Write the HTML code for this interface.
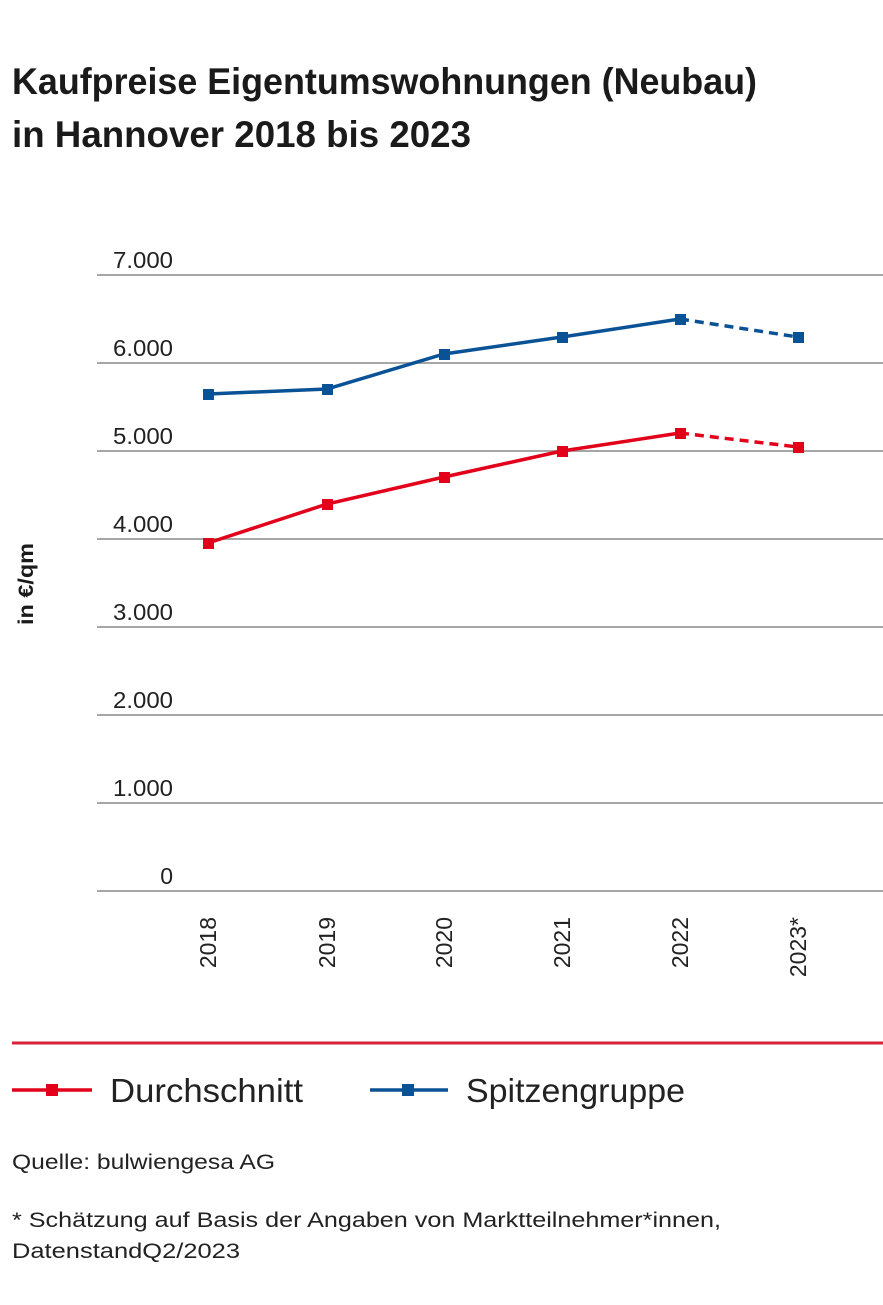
<!DOCTYPE html>
<html><head><meta charset="utf-8"><style>
html,body{margin:0;padding:0;background:#fff;}
svg{display:block;font-family:"Liberation Sans",sans-serif;}
</style></head><body>
<svg width="883" height="1305" viewBox="0 0 883 1305" xmlns="http://www.w3.org/2000/svg">
<text x="12" y="94" font-size="37" font-weight="bold" fill="#1a1a1a" textLength="745" lengthAdjust="spacingAndGlyphs">Kaufpreise Eigentumswohnungen (Neubau)</text>
<text x="12" y="147" font-size="37" font-weight="bold" fill="#1a1a1a" textLength="459" lengthAdjust="spacingAndGlyphs">in Hannover 2018 bis 2023</text>
<g stroke="#a6a6a6" stroke-width="2">
<line x1="97" y1="275" x2="883" y2="275"/><line x1="97" y1="363" x2="883" y2="363"/>
<line x1="97" y1="451" x2="883" y2="451"/><line x1="97" y1="539" x2="883" y2="539"/>
<line x1="97" y1="627" x2="883" y2="627"/><line x1="97" y1="715" x2="883" y2="715"/>
<line x1="97" y1="803" x2="883" y2="803"/><line x1="97" y1="891" x2="883" y2="891"/>
</g>
<g font-size="23" fill="#222" text-anchor="end">
<text x="173" y="268" textLength="60" lengthAdjust="spacingAndGlyphs">7.000</text>
<text x="173" y="356" textLength="60" lengthAdjust="spacingAndGlyphs">6.000</text>
<text x="173" y="444" textLength="60" lengthAdjust="spacingAndGlyphs">5.000</text>
<text x="173" y="532" textLength="60" lengthAdjust="spacingAndGlyphs">4.000</text>
<text x="173" y="620" textLength="60" lengthAdjust="spacingAndGlyphs">3.000</text>
<text x="173" y="708" textLength="60" lengthAdjust="spacingAndGlyphs">2.000</text>
<text x="173" y="796" textLength="60" lengthAdjust="spacingAndGlyphs">1.000</text>
<text x="173" y="884">0</text>
</g>
<text transform="translate(33,584) rotate(-90)" font-size="21" font-weight="bold" fill="#1a1a1a" text-anchor="middle" textLength="82" lengthAdjust="spacingAndGlyphs">in €/qm</text>
<g font-size="23" fill="#222" text-anchor="end">
<text transform="translate(216,917) rotate(-90)">2018</text>
<text transform="translate(335,917) rotate(-90)">2019</text>
<text transform="translate(452,917) rotate(-90)">2020</text>
<text transform="translate(570,917) rotate(-90)">2021</text>
<text transform="translate(688,917) rotate(-90)">2022</text>
<text transform="translate(806,917) rotate(-90)">2023*</text>
</g>
<g fill="none" stroke-width="3.5">
<polyline stroke="#0a5296" points="208,394 327,389 444,354 562,337 680,319"/>
<line stroke="#0a5296" x1="680" y1="319" x2="798" y2="337" stroke-dasharray="9,6"/>
<polyline stroke="#e2001a" points="208,543 327,504 444,477 562,451 680,433"/>
<line stroke="#e2001a" x1="680" y1="433" x2="798" y2="447" stroke-dasharray="9,6"/>
</g>
<g fill="#0a5296">
<rect x="203" y="389" width="11" height="11"/><rect x="322" y="384" width="11" height="11"/>
<rect x="439" y="349" width="11" height="11"/><rect x="557" y="332" width="11" height="11"/>
<rect x="675" y="314" width="11" height="11"/><rect x="793" y="332" width="11" height="11"/>
</g>
<g fill="#e2001a">
<rect x="203" y="538" width="11" height="11"/><rect x="322" y="499" width="11" height="11"/>
<rect x="439" y="472" width="11" height="11"/><rect x="557" y="446" width="11" height="11"/>
<rect x="675" y="428" width="11" height="11"/><rect x="793" y="442" width="11" height="11"/>
</g>
<line x1="12" y1="1043" x2="883" y2="1043" stroke="#d6233a" stroke-width="3"/>
<line x1="12" y1="1090" x2="92" y2="1090" stroke="#e2001a" stroke-width="3.5"/>
<rect x="46" y="1084" width="12" height="12" fill="#e2001a"/>
<text x="110" y="1102" font-size="33" fill="#222" textLength="193" lengthAdjust="spacingAndGlyphs">Durchschnitt</text>
<line x1="370" y1="1090" x2="448" y2="1090" stroke="#0a5296" stroke-width="3.5"/>
<rect x="402" y="1084" width="12" height="12" fill="#0a5296"/>
<text x="466" y="1102" font-size="33" fill="#222" textLength="219" lengthAdjust="spacingAndGlyphs">Spitzengruppe</text>
<g font-size="21" fill="#222">
<text x="12" y="1169" textLength="263" lengthAdjust="spacingAndGlyphs">Quelle: bulwiengesa AG</text>
<text x="12" y="1227" textLength="709" lengthAdjust="spacingAndGlyphs">* Schätzung auf Basis der Angaben von Marktteilnehmer*innen,</text>
<text x="12" y="1258" textLength="228" lengthAdjust="spacingAndGlyphs">DatenstandQ2/2023</text>
</g>
</svg>
</body></html>
